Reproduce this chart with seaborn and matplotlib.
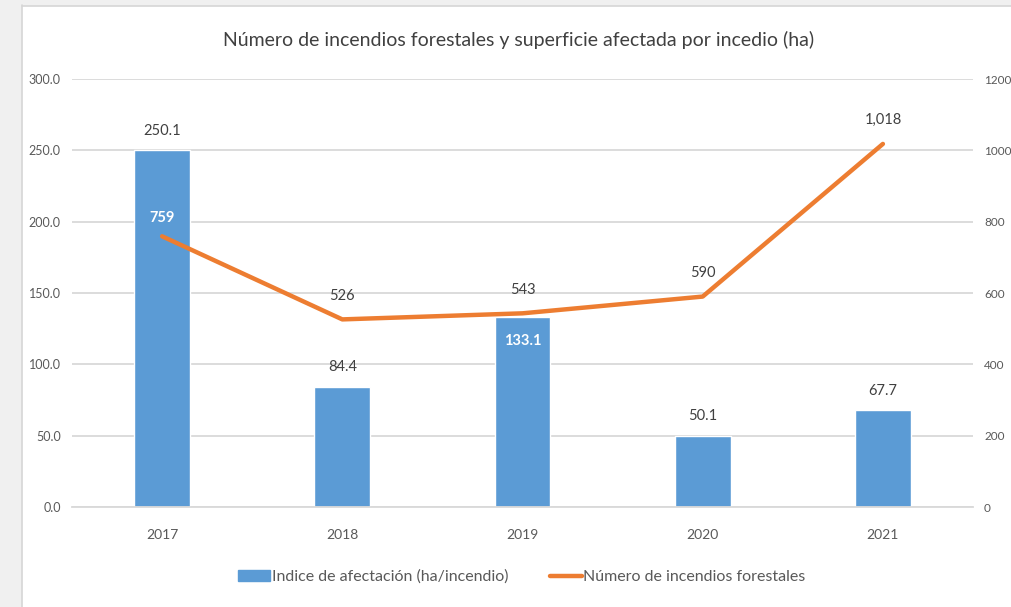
import matplotlib
matplotlib.use("Agg")
import matplotlib.pyplot as plt
import seaborn as sns
import numpy as np
import pandas as pd
from matplotlib.patches import Rectangle
from matplotlib.lines import Line2D
from matplotlib.ticker import FuncFormatter, MultipleLocator

years = ["2017", "2018", "2019", "2020", "2021"]
indice = [250.1, 84.4, 133.1, 50.1, 67.7]
incendios = [759, 526, 543, 590, 1018]
bar_label_white = [False, False, True, False, False]
line_label_white = [True, False, False, False, False]

title = "Número de incendios forestales y superficie afectada por incedio (ha)"
bar_name = "Indice de afectación (ha/incendio)"
line_name = "Número de incendios forestales"

BLUE = "#5B9BD5"
ORANGE = "#ED7D31"
TXT = "#595959"
GRID = "#D9D9D9"

sns.set_theme(style="white")
plt.rcParams["font.family"] = ["Lato", "DejaVu Sans"]

fig = plt.figure(figsize=(10.11, 6.07), dpi=100)
W, H = 1011, 607
# frame background strips
fig.patches.append(Rectangle((0, 0), 21 / W, 1, transform=fig.transFigure, color="#F0F0F0", zorder=0))
fig.patches.append(Rectangle((0, 1 - 5 / H), 1, 5 / H, transform=fig.transFigure, color="#F0F0F0", zorder=0))
fig.lines.append(Line2D([21.5 / W, 21.5 / W], [0, 1 - 5 / H], transform=fig.transFigure, color="#D6D6D6", lw=1.2))
fig.lines.append(Line2D([21.5 / W, 1], [1 - 5.5 / H, 1 - 5.5 / H], transform=fig.transFigure, color="#D6D6D6", lw=1.2))

ax = fig.add_axes([72 / W, 1 - 507 / H, (973 - 72) / W, (507 - 79) / H])
df = pd.DataFrame({"year": years, "indice": indice, "incendios": incendios})
sns.barplot(data=df, x="year", y="indice", color=BLUE, width=0.31, ax=ax, zorder=2, saturation=1)
ax.set_xlim(-0.5, len(years) - 0.5)
ax.set_ylim(0, 300)
ax.yaxis.set_major_locator(MultipleLocator(50))
ax.yaxis.set_major_formatter(FuncFormatter(lambda v, p: f"{v:.1f}"))
ax.grid(axis="y", color=GRID, lw=1.3, zorder=0)
ax.set_axisbelow(True)
for s in ["top", "right", "left"]:
    ax.spines[s].set_visible(False)
ax.spines["bottom"].set_color(GRID)
ax.spines["bottom"].set_linewidth(1.3)
ax.set_xlabel("")
ax.set_ylabel("")
ax.tick_params(axis="x", colors=TXT, labelsize=10, length=0, pad=16)
ax.tick_params(axis="y", colors=TXT, labelsize=9, length=0, pad=8)

ax2 = ax.twinx()
xpos = np.arange(len(years))
sns.lineplot(x=xpos, y=incendios, color=ORANGE, lw=3.2, ax=ax2, zorder=3)
ax2.set_ylim(0, 1200)
ax2.yaxis.set_major_locator(MultipleLocator(200))
ax2.yaxis.set_major_formatter(FuncFormatter(lambda v, p: f"{v:.0f}"))
for s in ["top", "right", "left", "bottom"]:
    ax2.spines[s].set_visible(False)
ax2.tick_params(axis="y", colors=TXT, labelsize=8.5, length=0, pad=8)
ax2.set_ylabel("")
ax2.grid(False)

# bar labels (on ax2 to be above line)
for i, v in enumerate(indice):
    yv = v * 4  # convert to right-axis units for placement
    if bar_label_white[i]:
        ax2.annotate(f"{v:.1f}", (i, yv), xytext=(0, -17), textcoords="offset points",
                     ha="center", va="center", color="white", fontsize=10.5, fontweight="bold", zorder=5)
    else:
        ax2.annotate(f"{v:.1f}", (i, yv), xytext=(0, 14), textcoords="offset points",
                     ha="center", va="center", color="#404040", fontsize=10.5, zorder=5)
for i, v in enumerate(incendios):
    lab = f"{v:,}"
    if line_label_white[i]:
        ax2.annotate(lab, (i, v), xytext=(0, 13), textcoords="offset points",
                     ha="center", va="center", color="white", fontsize=10.5, fontweight="bold", zorder=5)
    else:
        ax2.annotate(lab, (i, v), xytext=(0, 17), textcoords="offset points",
                     ha="center", va="center", color="#404040", fontsize=10.5, zorder=5)

fig.text(519 / W, 1 - 40 / H, title, ha="center", va="center", fontsize=14, color="#404040")

handles = [Rectangle((0, 0), 1, 1, color=BLUE), Line2D([0], [0], color=ORANGE, lw=3.2)]
fig.legend(handles, [bar_name, line_name], loc="center", bbox_to_anchor=(522 / W, 1 - 577 / H),
           ncol=2, frameon=False, fontsize=11.5, labelcolor=TXT, handlelength=2.0, handletextpad=0.1,
           columnspacing=2.6, handleheight=0.7)

fig.savefig("out.png", dpi=100)
